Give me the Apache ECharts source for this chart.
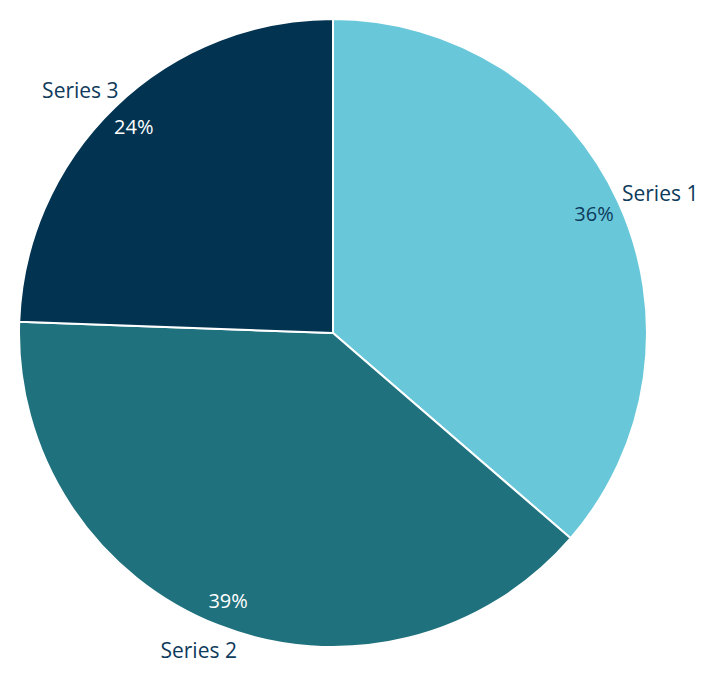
<!DOCTYPE html>
<html>
<head>
<meta charset="utf-8">
<script src="https://cdn.jsdelivr.net/npm/echarts@6/dist/echarts.min.js"></script>
<style>
  html, body { margin: 0; padding: 0; background: #fff; }
  #chart { width: 718px; height: 676px; }
</style>
</head>
<body>
<div id="chart"></div>
<script>
// pie data
const names = ['Series 1', 'Series 2', 'Series 3'];
const values = [36.3, 39.2, 24.4];
const colors = ['#68c8da', '#1f717e', '#023452'];
const pctColors = ['#0e3a5b', '#ffffff', '#ffffff'];

const chart = echarts.init(document.getElementById('chart'), null, { renderer: 'svg' });

const center = [333, 333];
const font = '"Open Sans", "Noto Sans", sans-serif';
// small nudges so the outside names sit where the reference has them
const nameOffsets = [[8, 6], [-6, -10], [-9, 10]];

const total = values.reduce((a, b) => a + b, 0);

chart.setOption({
    animation: false,
    series: [
        // the actual slices
        {
            type: 'pie',
            center: center,
            radius: [0, 314],
            startAngle: 90,
            clockwise: true,
            silent: true,
            data: names.map((n, i) => ({
                name: n,
                value: values[i],
                itemStyle: { color: colors[i] }
            })),
            itemStyle: { borderColor: '#fff', borderWidth: 2 },
            label: { show: false },
            labelLine: { show: false }
        },
        // percent labels near the rim (transparent ring)
        {
            type: 'pie',
            center: center,
            radius: [270, 298],
            startAngle: 90,
            silent: true,
            data: names.map((n, i) => ({
                name: n,
                value: values[i],
                label: { color: pctColors[i] }
            })),
            itemStyle: { color: 'transparent' },
            label: {
                show: true,
                position: 'inside',
                fontFamily: font,
                fontSize: 20,
                formatter: p => Math.round(p.value / total * 100) + '%'
            },
            labelLine: { show: false }
        },
        // series names outside the pie
        {
            type: 'pie',
            center: center,
            radius: [334, 362],
            startAngle: 90,
            silent: true,
            data: names.map((n, i) => ({
                name: n,
                value: values[i],
                label: { offset: nameOffsets[i] }
            })),
            itemStyle: { color: 'transparent' },
            label: {
                show: true,
                position: 'inside',
                fontFamily: font,
                fontSize: 21,
                color: '#0e3a5b',
                formatter: '{b}'
            },
            labelLine: { show: false }
        }
    ]
});
</script>
</body>
</html>
